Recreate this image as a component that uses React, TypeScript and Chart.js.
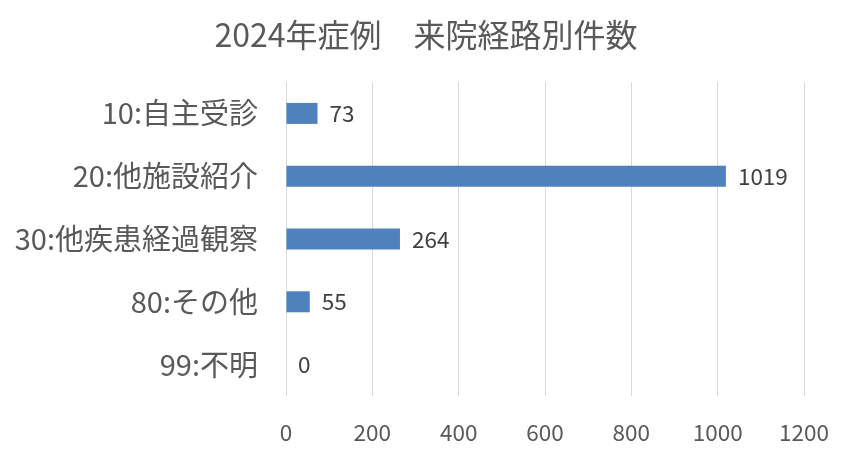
import React, { useEffect, useRef } from "react";
import { Chart, registerables } from "chart.js";

Chart.register(...registerables);

const titleText = "2024年症例　来院経路別件数";
const categories = ["10:自主受診", "20:他施設紹介", "30:他疾患経過観察", "80:その他", "99:不明"];
const values = [73, 1019, 264, 55, 0];
const xTickMin = 0;
const xTickMax = 1200;
const xTickStep = 200;

const FONT = '"Noto Sans CJK JP", "Noto Sans", sans-serif';

const titlePlugin = {
  id: "centeredTitle",
  afterDraw(chart: any) {
    const ctx = chart.ctx;
    ctx.save();
    ctx.font = `32px ${FONT}`;
    ctx.fillStyle = "#595959";
    ctx.textAlign = "center";
    ctx.textBaseline = "middle";
    ctx.fillText(titleText, chart.width / 2, 35);
    ctx.restore();
  },
};

const dataLabelPlugin = {
  id: "dataLabels",
  afterDatasetsDraw(chart: any) {
    const ctx = chart.ctx;
    const meta = chart.getDatasetMeta(0);
    const data = chart.data.datasets[0].data as number[];
    ctx.save();
    ctx.font = `22.5px ${FONT}`;
    ctx.fillStyle = "#404040";
    ctx.textAlign = "left";
    ctx.textBaseline = "middle";
    meta.data.forEach((bar: any, i: number) => {
      ctx.fillText(String(data[i]), bar.x + 12, bar.y);
    });
    ctx.restore();
  },
};

export default function App() {
  const ref = useRef<HTMLCanvasElement | null>(null);

  useEffect(() => {
    document.body.style.margin = "0";
    if (!ref.current) return;
    const chart = new Chart(ref.current, {
      type: "bar",
      data: {
        labels: categories,
        datasets: [
          {
            data: values,
            backgroundColor: "#4f81bd",
            borderWidth: 0,
            barPercentage: 0.334,
            categoryPercentage: 1,
          },
        ],
      },
      options: {
        indexAxis: "y",
        responsive: false,
        animation: false,
        devicePixelRatio: 1,
        layout: { padding: { top: 82, right: 43, bottom: 0, left: 0 } },
        plugins: {
          legend: { display: false },
          tooltip: { enabled: false },
          title: { display: false },
        },
        scales: {
          x: {
            min: xTickMin,
            max: xTickMax,
            ticks: {
              stepSize: xTickStep,
              color: "#595959",
              font: { family: FONT, size: 22.5 },
              padding: 23,
              maxRotation: 0,
              callback: (v: any) => String(v),
            },
            grid: { color: "#d9d9d9", lineWidth: 1, drawTicks: false },
            border: { display: false },
            afterFit: (scale: any) => {
              scale.height = 57;
            },
          },
          y: {
            ticks: {
              color: "#595959",
              font: { family: FONT, size: 29 },
              padding: 28,
            },
            grid: { display: false, drawTicks: false },
            border: { display: false },
            afterFit: (scale: any) => {
              scale.width = 286;
            },
          },
        },
      },
      plugins: [dataLabelPlugin, titlePlugin],
    } as any);
    return () => chart.destroy();
  }, []);

  return (
    <div style={{ width: 852, height: 453, background: "#ffffff" }}>
      <canvas ref={ref} width={852} height={453} style={{ width: 852, height: 453, display: "block" }} />
    </div>
  );
}
